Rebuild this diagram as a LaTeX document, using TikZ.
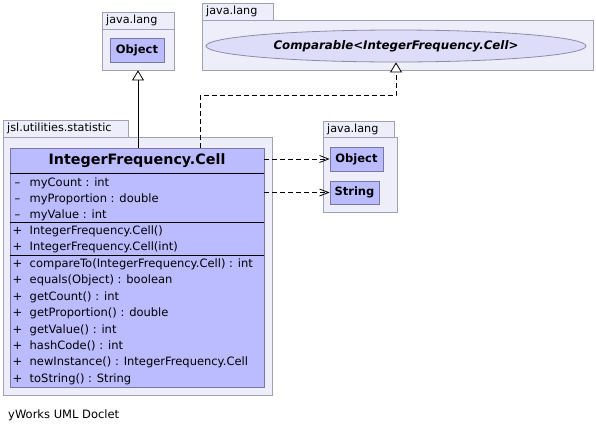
\documentclass[tikz,border=0pt]{standalone}
\usepackage{fontspec}
\setmainfont{DejaVu Sans}
\usetikzlibrary{arrows.meta,shapes.geometric,calc}
\definecolor{pkgfill}{RGB}{238,238,250}
\definecolor{pkgline}{RGB}{160,160,185}
\definecolor{clsfill}{RGB}{187,187,255}
\definecolor{clsline}{RGB}{120,120,165}
\definecolor{ellfill}{RGB}{221,221,250}
\definecolor{ellline}{RGB}{140,140,165}

\begin{document}
\begin{tikzpicture}[x=1pt,y=-1pt,
    pkg/.style={draw=pkgline,fill=pkgfill,line width=0.8pt,inner sep=0pt},
    tablabel/.style={anchor=west,inner sep=0pt,font=\fontsize{11.2}{13}\selectfont},
    cls/.style={draw=clsline,fill=clsfill,line width=0.8pt,inner sep=0pt},
    small/.style={cls,font=\fontsize{11.5}{13}\selectfont\bfseries},
    member/.style={anchor=west,inner sep=0pt,text height=8.5pt,text depth=2.5pt,font=\fontsize{11.5}{13}\selectfont},
    inherit/.style={-{Triangle[open,length=10pt,width=12pt,fill=white]},line width=0.8pt},
    realize/.style={inherit,dash pattern=on 5pt off 3pt},
    depend/.style={-{Straight Barb[length=9pt,width=7pt]},dash pattern=on 5pt off 3pt,line width=0.8pt}]
    \useasboundingbox (0,0) rectangle (596,432);

    \draw[pkg] (102,12) rectangle (174,29);
    \node[tablabel] (tabA) at (106,20.5) {java.lang};
    \node[pkg,minimum width=72pt,minimum height=41pt] (langA) at (138,49.5) {};
    \node[small,minimum width=54pt,minimum height=24pt] (objA) at (137,50) {Object};

    \draw[pkg] (202,3) rectangle (273,20);
    \node[tablabel] (tabB) at (206,11.5) {java.lang};
    \node[pkg,minimum width=391pt,minimum height=50pt] (langB) at (397.5,45) {};
    \node[ellipse,draw=ellline,fill=ellfill,line width=0.8pt,inner sep=0pt,
        minimum width=380pt,minimum height=32pt,
        font=\fontsize{11.8}{13}\selectfont\bfseries\itshape] (comp) at (396,46)
        {Comparable<IntegerFrequency.Cell>};

    \draw[pkg] (3,120) rectangle (128,137);
    \node[tablabel] (tabC) at (7,128.5) {jsl.utilities.statistic};
    \node[pkg,minimum width=269pt,minimum height=258pt] (stat) at (137.5,266) {};
    \node[cls,minimum width=254pt,minimum height=239pt] (cell) at (137,267.5) {};
    \node[font=\fontsize{14.3}{16}\selectfont\bfseries] (title) at (137,160.5) {IntegerFrequency.Cell};
    \draw[line width=0.8pt] (cell.west |- 0,173) -- (cell.east |- 0,173);
    \draw[line width=0.8pt] (cell.west |- 0,222) -- (cell.east |- 0,222);
    \draw[line width=0.8pt] (cell.west |- 0,255) -- (cell.east |- 0,255);
    \foreach \y/\s/\t [count=\i] in {
        183/–/myCount : int,
        199/–/myProportion : double,
        215/–/myValue : int,
        231/+/IntegerFrequency.Cell(),
        247/+/IntegerFrequency.Cell(int),
        264/+/compareTo(IntegerFrequency.Cell) : int,
        280/+/equals(Object) : boolean,
        297/+/getCount() : int,
        313/+/getProportion() : double,
        330/+/getValue() : int,
        346/+/hashCode() : int,
        362/+/newInstance() : IntegerFrequency.Cell,
        379/+/toString() : String}
    {
        \node[member,anchor=center] (sign\i) at (17.5,\y) {\s};
        \node[member] (m\i) at (29.5,\y) {\t};
    }

    \draw[pkg] (323,121) rectangle (394,137);
    \node[tablabel] (tabD) at (327,129) {java.lang};
    \node[pkg,minimum width=74pt,minimum height=75pt] (langD) at (360,174.5) {};
    \node[small,minimum width=53pt,minimum height=24pt] (objD) at (356.5,159) {Object};
    \node[small,minimum width=49pt,minimum height=23pt] (strD) at (354.5,192.5) {String};

    \draw[inherit] (cell.north -| langA.south) -- (langA.south);
    \draw[realize] ([xshift=63pt]cell.north) |- ([yshift=-33pt]comp.south) -- (comp.south);
    \draw[depend] (cell.east |- objD) -- (objD.west);
    \draw[depend] (cell.east |- strD) -- (strD.west);

    \node[member] (doclet) at (8,415) {yWorks UML Doclet};
\end{tikzpicture}
\end{document}
